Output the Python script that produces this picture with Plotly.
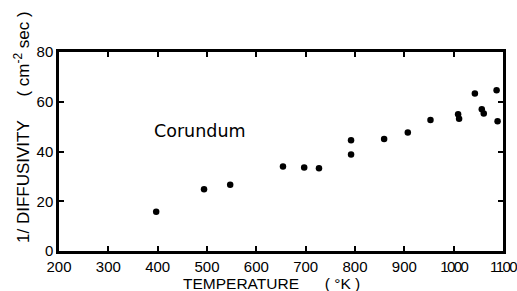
import plotly.graph_objects as go

temperature_K = [397, 494, 547, 654, 697, 727, 792, 792, 859, 907, 953, 1009, 1011, 1043, 1057, 1061, 1087, 1089]
inv_diffusivity = [15.8, 24.8, 26.6, 34.0, 33.6, 33.3, 44.5, 38.8, 45.0, 47.6, 52.7, 55.0, 53.2, 63.3, 57.0, 55.3, 64.6, 52.2]

x_ticks = [200, 300, 400, 500, 600, 700, 800, 900, 1000, 1100]
y_ticks = [0, 20, 40, 60, 80]

x_ticktext = [
    (f"<span style='letter-spacing:-1.6px'>{v}</span>" if v >= 1000 else str(v))
    for v in x_ticks
]

fig = go.Figure()
fig.add_trace(go.Scatter(
    x=temperature_K, y=inv_diffusivity, mode="markers",
    marker=dict(color="black", size=6.5, line=dict(width=0)),
    showlegend=False, hoverinfo="x+y",
))

tickfont = dict(family="Liberation Sans, Arial, sans-serif", size=15, color="black")

fig.update_xaxes(
    range=[200, 1100], tickvals=x_ticks, ticktext=x_ticktext,
    showgrid=False, zeroline=False, showline=True, linecolor="black", linewidth=2.5,
    mirror="ticks", ticks="inside", ticklen=5, tickwidth=1.5, tickcolor="black",
    tickfont=tickfont, ticklabeloverflow="allow", automargin=False,
)
fig.update_yaxes(
    range=[0, 80], tickvals=y_ticks, ticktext=[str(v) for v in y_ticks],
    showgrid=False, zeroline=False, showline=True, linecolor="black", linewidth=2.5,
    mirror="ticks", ticks="inside", ticklen=5, tickwidth=1.5, tickcolor="black",
    tickfont=tickfont, automargin=False,
)

fig.add_annotation(
    x=486, y=48.4, xref="x", yref="y", text="Corundum", showarrow=False,
    font=dict(family="DejaVu Sans, sans-serif", size=17.5, color="black"),
)
fig.add_annotation(
    x=(271 - 59) / 444, y=(251 - 283) / 199, xref="paper", yref="paper",
    text="TEMPERATURE\u00a0\u00a0\u00a0\u00a0\u00a0\u00a0( \u00b0K )", showarrow=False,
    xanchor="center", yanchor="middle",
    font=dict(family="Liberation Sans, Arial, sans-serif", size=15.5, color="black"),
)
fig.add_annotation(
    x=(22 - 59) / 444, y=(251 - 127) / 199, xref="paper", yref="paper",
    text="1/ DIFFUSIVITY\u00a0\u00a0\u00a0\u00a0\u00a0( cm<sup>-2</sup> sec )", showarrow=False,
    textangle=-90, xanchor="center", yanchor="middle",
    font=dict(family="Liberation Sans, Arial, sans-serif", size=17, color="black"),
)

fig.update_layout(
    width=517, height=291,
    margin=dict(l=59, r=14, t=52, b=40, autoexpand=False),
    plot_bgcolor="white", paper_bgcolor="white",
)

fig.write_html(
    "out.html",
    config={"displayModeBar": False},
    post_script="document.body.style.margin='0';document.body.style.overflow='hidden';",
)
